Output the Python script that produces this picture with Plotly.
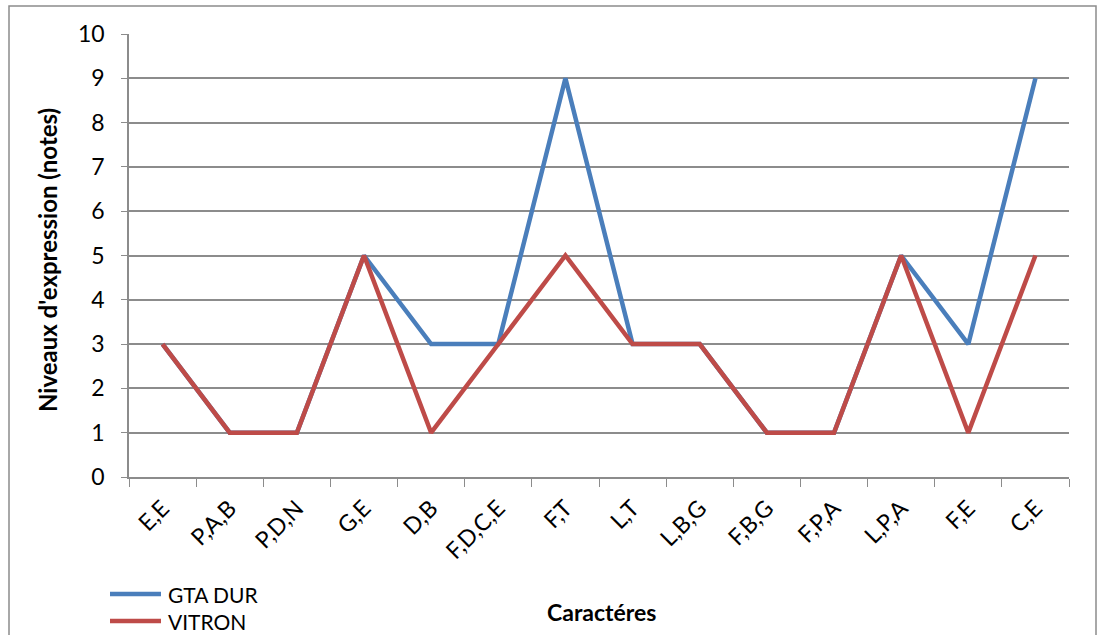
import plotly.graph_objects as go

categories = ["E,E", "P,A,B", "P,D,N", "G,E", "D,B", "F,D,C,E", "F,T", "L,T",
              "L,B,G", "F,B,G", "F,P,A", "L,P,A", "F,E", "C,E"]
gta_dur = [3, 1, 1, 5, 3, 3, 9, 3, 3, 1, 1, 5, 3, 9]
vitron = [3, 1, 1, 5, 1, 3, 5, 3, 3, 1, 1, 5, 1, 5]
series_names = ["GTA DUR", "VITRON"]
series_colors = ["#4a7ebb", "#be4b48"]
y_ticks = list(range(0, 11))

FONT = "Lato"
L, T = 129, 34
PW, PH = 940, 443
W, H = 1098, 635


def px(x):
    return (x - L) / PW


def py(y):
    return (T + PH - y) / PH


fig = go.Figure()
for name, vals, col in zip(series_names, [gta_dur, vitron], series_colors):
    fig.add_trace(go.Scatter(x=categories, y=vals, mode="lines", name=name,
                             line=dict(color=col, width=4.5), showlegend=False))

# legend drawn manually (bottom-left, like the reference)
legend_y = [594, 621]
shapes = []
annotations = []
for name, col, ly in zip(series_names, series_colors, legend_y):
    shapes.append(dict(type="line", xref="paper", yref="paper",
                       x0=px(110), x1=px(161), y0=py(ly), y1=py(ly),
                       line=dict(color=col, width=4.5)))
    annotations.append(dict(text=name, xref="paper", yref="paper", x=px(166), y=py(ly),
                            xanchor="left", yanchor="middle", showarrow=False,
                            font=dict(size=21, family=FONT, color="black")))

annotations += [
    dict(text="<b>Niveaux d'expression (notes)</b>", xref="paper", yref="paper",
         x=px(47), y=py(260), textangle=-90, showarrow=False,
         font=dict(size=24, family=FONT), xanchor="center", yanchor="middle"),
    dict(text="<b>Caractéres</b>", xref="paper", yref="paper",
         x=px(601), y=py(612), showarrow=False,
         font=dict(size=23, family=FONT), xanchor="center", yanchor="middle"),
]
shapes.append(dict(type="rect", xref="paper", yref="paper",
                   x0=px(9), x1=px(1096), y0=py(700), y1=py(6),
                   line=dict(color="#8c8c8c", width=1.5), fillcolor="rgba(0,0,0,0)",
                   layer="below"))

fig.update_layout(
    width=W, height=H,
    margin=dict(l=L, r=W - L - PW, t=T, b=H - T - PH),
    paper_bgcolor="white", plot_bgcolor="white",
    font=dict(family=FONT, size=21, color="black"),
    showlegend=False,
    xaxis=dict(type="category", range=[-0.5, 13.5], tickangle=-45,
               tickson="boundaries", ticks="outside", ticklen=8, tickcolor="#8c8c8c",
               showline=True, linecolor="#8c8c8c", linewidth=1.5,
               showgrid=False, tickfont=dict(size=23, family=FONT),
               ticklabelstandoff=7, automargin=False),
    yaxis=dict(range=[0, 10], tickvals=y_ticks, ticks="outside", ticklen=6,
               tickcolor="#8c8c8c", showline=True, linecolor="#8c8c8c", linewidth=1.5,
               showgrid=True, gridcolor="#8c8c8c", gridwidth=1.5,
               tickfont=dict(size=23, family=FONT), ticklabelstandoff=12,
               zeroline=False, automargin=False),
    annotations=annotations,
    shapes=shapes,
)
fig.write_html("out.html", config={"displayModeBar": False},
               post_script="document.body.style.margin='0';")
